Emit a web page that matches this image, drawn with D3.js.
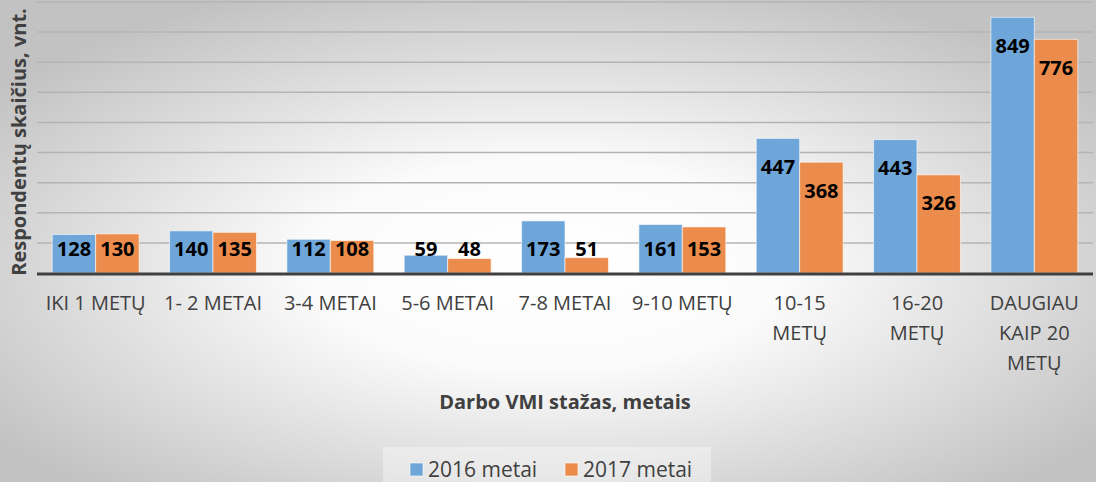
<!DOCTYPE html>
<html lang="lt">
<head>
<meta charset="UTF-8">
<title>Darbo VMI stažas</title>
<script src="https://d3js.org/d3.v7.min.js"></script>
<style>
    body { margin: 0; font-family: 'Open Sans', sans-serif; }
    svg { display: block; }
    .tick-label { fill: #404040; font-size: 20px; }
    .bar-label { fill: #000; font-size: 20px; font-weight: bold; }
    .axis-title { fill: #404040; font-size: 20px; font-weight: bold; }
    .legend-text { fill: #404040; font-size: 21px; }
</style>
</head>
<body>
<svg id="chart"></svg>
<script>
    const width = 1096;
    const height = 482;

    // data
    const categories = [
        ["IKI 1 METŲ"], ["1- 2 METAI"], ["3-4 METAI"], ["5-6 METAI"], ["7-8 METAI"],
        ["9-10 METŲ"], ["10-15", "METŲ"], ["16-20", "METŲ"], ["DAUGIAU", "KAIP 20", "METŲ"]
    ];
    const series = ["2016 metai", "2017 metai"];
    const values2016 = [128, 140, 112, 59, 173, 161, 447, 443, 849];
    const values2017 = [130, 135, 108, 48, 51, 153, 368, 326, 776];
    const colors = ["#6fa6da", "#ec8c4c"];

    const rows = categories.map((c, i) => ({
        key: c.join(" "), lines: c, vals: [values2016[i], values2017[i]]
    }));

    const svg = d3.select("#chart").attr("width", width).attr("height", height);

    // background radial gradient
    const defs = svg.append("defs");
    const grad = defs.append("radialGradient").attr("id", "bg")
        .attr("cx", "0.5").attr("cy", "0.55").attr("r", "0.62");
    grad.append("stop").attr("offset", "0").attr("stop-color", "#ffffff");
    grad.append("stop").attr("offset", "0.35").attr("stop-color", "#fbfbfb");
    grad.append("stop").attr("offset", "1").attr("stop-color", "#c2c2c2");
    svg.append("rect").attr("width", width).attr("height", height).attr("fill", "url(#bg)");

    const plotLeft = 37, plotRight = 1093, plotTop = 2, plotBottom = 273;

    const x0 = d3.scaleBand().domain(rows.map(d => d.key)).range([plotLeft, plotRight]).padding(0);
    const x1 = d3.scaleBand().domain(series).range([0, x0.bandwidth()]).paddingInner(0).paddingOuter(0.35);
    const y = d3.scaleLinear().domain([0, 900]).range([plotBottom, plotTop]);

    // gridlines
    svg.append("g").selectAll("line")
        .data(y.ticks(9).filter(t => t > 0))
        .join("line")
        .attr("x1", plotLeft).attr("x2", plotRight)
        .attr("y1", d => y(d)).attr("y2", d => y(d))
        .attr("stroke", "#b4b4b4").attr("stroke-width", 1.5);

    const groups = svg.append("g").selectAll("g")
        .data(rows)
        .join("g")
        .attr("transform", d => `translate(${x0(d.key)},0)`);

    groups.selectAll("rect")
        .data(d => d.vals.map((v, i) => ({ s: series[i], v, i })))
        .join("rect")
        .attr("x", d => x1(d.s))
        .attr("y", d => y(d.v))
        .attr("width", x1.bandwidth())
        .attr("height", d => plotBottom - y(d.v))
        .attr("fill", d => colors[d.i])
        .attr("stroke", "rgba(255,255,255,0.6)")
        .attr("stroke-width", 1);

    groups.selectAll("text.bar-label")
        .data(d => d.vals.map((v, i) => ({ s: series[i], v, i })))
        .join("text")
        .attr("class", "bar-label")
        .attr("x", d => x1(d.s) + x1.bandwidth() / 2)
        .attr("y", d => Math.min(y(d.v) + 28, 248))
        .attr("text-anchor", "middle")
        .attr("dominant-baseline", "central")
        .text(d => d.v);

    // baseline
    svg.append("line")
        .attr("x1", plotLeft).attr("x2", plotRight)
        .attr("y1", y(0) + 1).attr("y2", y(0) + 1)
        .attr("stroke", "#404040").attr("stroke-width", 3);

    // category labels
    const ticks = svg.append("g").selectAll("text")
        .data(rows)
        .join("text")
        .attr("class", "tick-label")
        .attr("text-anchor", "middle")
        .attr("x", d => x0(d.key) + x0.bandwidth() / 2)
        .attr("y", 303);
    ticks.selectAll("tspan")
        .data(d => d.lines)
        .join("tspan")
        .attr("x", function () { return this.parentNode.getAttribute("x"); })
        .attr("dy", (d, i) => i === 0 ? "0.35em" : 30)
        .text(d => d);

    // axis titles
    svg.append("text")
        .attr("class", "axis-title")
        .attr("x", 565).attr("y", 401)
        .attr("text-anchor", "middle")
        .attr("dominant-baseline", "central")
        .text("Darbo VMI stažas, metais");

    svg.append("text")
        .attr("class", "axis-title")
        .attr("transform", "translate(18,142) rotate(-90)")
        .attr("text-anchor", "middle")
        .attr("dominant-baseline", "central")
        .text("Respondentų skaičius, vnt.");

    // legend
    svg.append("rect")
        .attr("x", 383).attr("y", 447).attr("width", 328).attr("height", 40)
        .attr("fill", "rgba(255,255,255,0.35)");
    const legendX = [410, 565];
    const leg = svg.append("g").selectAll("g")
        .data(series)
        .join("g")
        .attr("transform", (d, i) => `translate(${legendX[i]},463)`);
    leg.append("rect")
        .attr("width", 13).attr("height", 13)
        .attr("fill", (d, i) => colors[i])
        .attr("stroke", "rgba(255,255,255,0.6)");
    leg.append("text")
        .attr("class", "legend-text")
        .attr("x", 18).attr("y", 6)
        .attr("dominant-baseline", "central")
        .text(d => d);
</script>
</body>
</html>
